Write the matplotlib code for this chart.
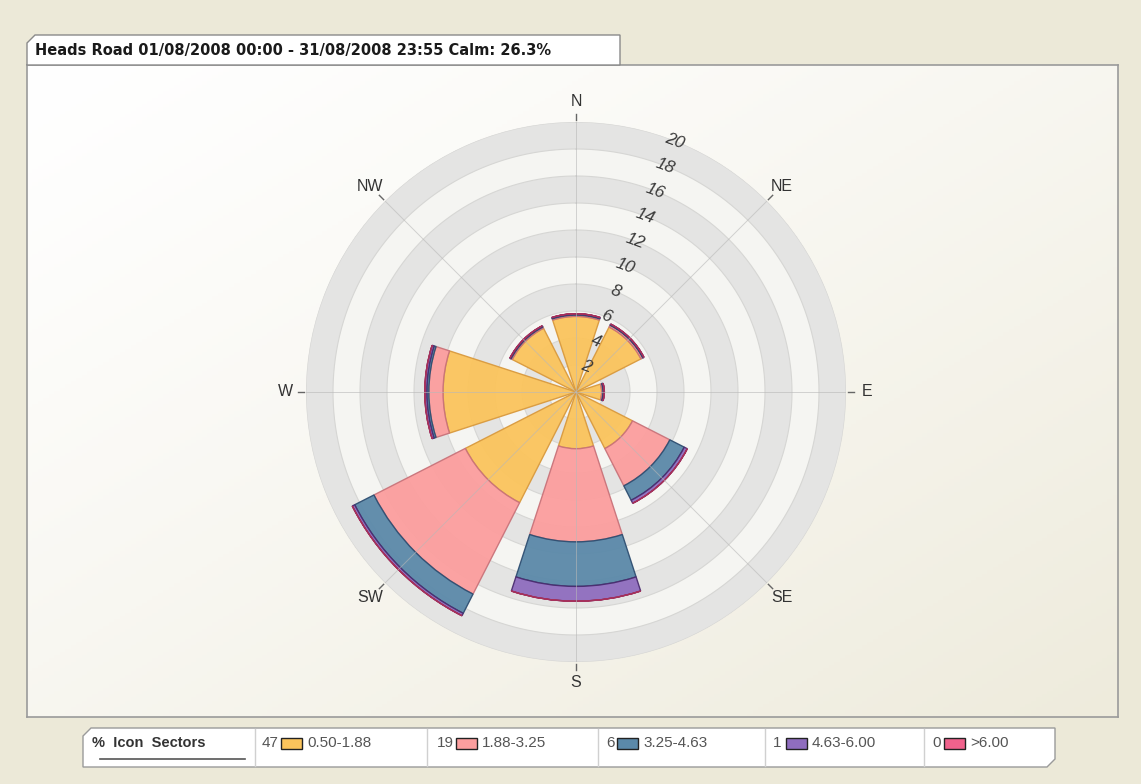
import numpy as np
import matplotlib
matplotlib.use("Agg")
import matplotlib.pyplot as plt
from matplotlib.patches import Polygon, Rectangle
from matplotlib.colors import to_rgb

W, H = 1141, 784

# data (% of time, stacked by wind speed class)
directions = ['N', 'NE', 'E', 'SE', 'S', 'SW', 'W', 'NW']
spd_050_188 = [5.6, 5.4, 1.9, 4.7, 4.2, 9.2, 9.85, 5.3]
spd_188_325 = [0.1, 0.15, 0.1, 3.1, 6.9, 7.6, 1.05, 0.1]
spd_325_463 = [0.05, 0.05, 0.05, 1.2, 3.3, 1.6, 0.15, 0.05]
spd_463_600 = [0.05, 0.05, 0.05, 0.25, 1.1, 0.2, 0.15, 0.05]
spd_over_600 = [0, 0, 0, 0, 0, 0, 0, 0]

class_labels = ['0.50-1.88', '1.88-3.25', '3.25-4.63', '4.63-6.00', '>6.00']
class_pct = [47, 19, 6, 1, 0]
ring_ticks = [2, 4, 6, 8, 10, 12, 14, 16, 18, 20]
title = 'Heads Road 01/08/2008 00:00 - 31/08/2008 23:55 Calm: 26.3%'

faces = ['#fbc45c', '#fc9e9e', '#5b89a9', '#8f6dbf', '#f0628c']
edges = ['#d99a3e', '#c9737a', '#2f4f72', '#4b2d70', '#a8305a']


def fx(x):
    return x / W


def fy(y):
    return 1 - y / H


fig = plt.figure(figsize=(W / 100, H / 100), dpi=100)
fig.patch.set_facecolor('#ece9d8')

# plot panel with a soft diagonal gradient
bg = fig.add_axes([fx(27), fy(717), fx(1118 - 27), fy(65) - fy(717)])
gx, gy = np.meshgrid(np.linspace(0, 1, 200), np.linspace(0, 1, 200))
t = np.clip((gx + gy) / 2, 0, 1) ** 1.2
c0, c1 = np.array(to_rgb('#ffffff')), np.array(to_rgb('#eeebdc'))
img = c0 + (c1 - c0) * t[..., None]
bg.imshow(img, aspect='auto', extent=[0, 1, 0, 1], origin='upper')
bg.set_xticks([])
bg.set_yticks([])
for s in bg.spines.values():
    s.set_color('#9a9a9a')
    s.set_linewidth(1.2)

# title tab
tab = Polygon([(fx(27), fy(65)), (fx(27), fy(43)), (fx(35), fy(35)), (fx(620), fy(35)),
               (fx(620), fy(65))], closed=True, transform=fig.transFigure,
              facecolor='white', edgecolor='#8a8a8a', lw=1.0, zorder=5)
fig.patches.append(tab)
fig.text(fx(35), fy(50), title, fontsize=10.5, fontweight='bold', color='#1a1a1a',
         va='center', ha='left', family='DejaVu Sans', zorder=6)

# polar axes, centre at (576, 392), radius 270 px for 20 %
R = 270
ax = fig.add_axes([fx(576 - R), fy(392 + R), 2 * R / W, 2 * R / H], projection='polar')
ax.set_theta_zero_location('N')
ax.set_theta_direction(-1)
ax.set_ylim(0, 20)
ax.patch.set_alpha(0)
ax.spines['polar'].set_visible(False)
ax.grid(False)
ax.set_xticks([])
ax.set_yticks([])

# background rings
for lo in range(0, 20, 2):
    col = '#e4e4e3' if (lo // 2) % 2 == 1 else '#f5f5f2'
    ax.bar(0, 2, width=2 * np.pi, bottom=lo, color=col, edgecolor='none', zorder=0)
th = np.linspace(0, 2 * np.pi, 400)
for r in ring_ticks:
    ax.plot(th, np.full_like(th, r), color='#d6d6d4', lw=0.8, zorder=1)

theta = np.deg2rad(np.arange(len(directions)) * 45)
width = np.deg2rad(36)

bottom = np.zeros(len(directions))
for vals, fc, ec in zip([spd_050_188, spd_188_325, spd_325_463, spd_463_600, spd_over_600],
                        faces, edges):
    vals = np.array(vals, dtype=float)
    ax.bar(theta, vals, width=width, bottom=bottom, color=fc, edgecolor=ec,
           linewidth=1.0, alpha=0.95, zorder=3)
    bottom += vals

# spokes
for a in theta:
    ax.plot([a, a], [0, 20], color='#b8b8b8', lw=0.7, alpha=0.6, zorder=4)

# compass ticks and labels
for a, d in zip(theta, directions):
    ax.plot([a, a], [20.15, 20.6], color='#666666', lw=1.0, zorder=4, clip_on=False)
    ax.text(a, 21.55, d, ha='center', va='center', fontsize=11.5, color='#333333',
            family='Liberation Sans')

# ring labels along NNE
for r in ring_ticks:
    ax.text(np.deg2rad(21.5), r, str(r), ha='center', va='center', fontsize=12.5,
            style='italic', color='#3a3a3a', rotation=-20, family='Liberation Sans', zorder=6)

# legend strip
leg = Polygon([(fx(83), fy(767)), (fx(83), fy(736)), (fx(91), fy(728)), (fx(1055), fy(728)),
               (fx(1055), fy(759)), (fx(1047), fy(767))], closed=True,
              transform=fig.transFigure, facecolor='white', edgecolor='#9a9a9a', lw=1.0)
fig.patches.append(leg)
for xd in [255, 427, 598, 765, 924]:
    fig.lines.append(plt.Line2D([fx(xd), fx(xd)], [fy(729), fy(766)],
                                transform=fig.transFigure, color='#d0d0d0', lw=1.0))
fig.text(fx(92), fy(743), '%  Icon  Sectors', fontsize=10.5, fontweight='bold',
         color='#333333', va='center', family='Liberation Sans')
fig.lines.append(plt.Line2D([fx(100), fx(245)], [fy(759), fy(759)],
                            transform=fig.transFigure, color='#555555', lw=1.2))

num_x = [262, 437, 606, 773, 932]
sw_x = [281, 456, 617, 786, 944]
for i in range(len(class_labels)):
    fig.text(fx(num_x[i]), fy(743), str(class_pct[i]), fontsize=11, color='#555555',
             va='center', family='Liberation Sans')
    fig.patches.append(Rectangle((fx(sw_x[i]), fy(749)), fx(21), fy(738) - fy(749),
                                 transform=fig.transFigure, facecolor=faces[i],
                                 edgecolor='#222222', lw=1.0))
    fig.text(fx(sw_x[i] + 26), fy(743), class_labels[i], fontsize=11, color='#555555',
             va='center', family='Liberation Sans')

fig.savefig('out.png', dpi=100, facecolor=fig.get_facecolor())
